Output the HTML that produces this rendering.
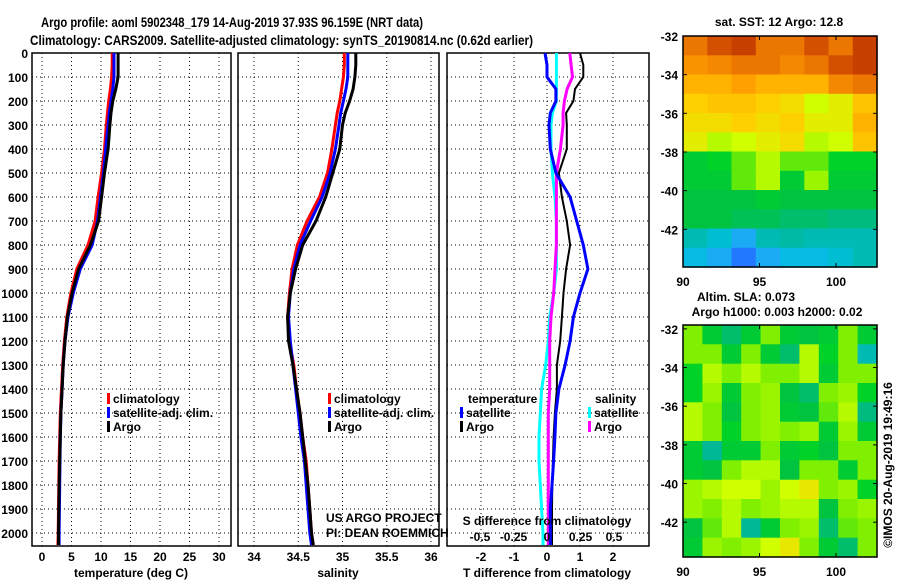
<!DOCTYPE html>
<html><head><meta charset="utf-8"><style>
html,body{margin:0;padding:0;background:#fff;width:900px;height:580px;overflow:hidden}
svg text{font-family:"Liberation Sans",sans-serif;font-weight:bold;fill:#000}
</style></head><body>
<svg id="chart" width="900" height="580" xmlns="http://www.w3.org/2000/svg">
<text x="41" y="27" font-size="14" textLength="382" lengthAdjust="spacingAndGlyphs">Argo profile: aoml 5902348_179 14-Aug-2019 37.93S 96.159E (NRT data)</text>
<text x="30" y="45" font-size="14" textLength="503" lengthAdjust="spacingAndGlyphs">Climatology: CARS2009. Satellite-adjusted climatology: synTS_20190814.nc (0.62d earlier)</text>
<g id="g"></g>
</svg>
<script>
const depths=[0,50,100,150,200,250,300,400,500,600,700,800,900,1000,1100,1200,1300,1400,1500,1600,1700,1800,1900,2000,2050];
const tempClim=[11.9,11.9,11.8,11.6,11.3,11.1,10.9,10.6,10.1,9.5,9.0,7.8,5.9,4.9,4.2,3.8,3.5,3.3,3.1,3.0,2.9,2.85,2.8,2.75,2.7];
const tempSat=[12.2,12.2,12.2,12.0,11.7,11.4,11.2,10.8,10.4,9.9,9.4,8.5,6.5,5.3,4.4,3.9,3.6,3.4,3.2,3.1,3.05,3.0,2.95,2.9,2.9];
const tempArgo=[12.9,12.9,12.9,12.5,12.0,11.7,11.5,11.2,10.6,10.1,9.6,8.2,6.2,5.1,4.3,3.9,3.6,3.4,3.2,3.1,3.0,2.9,2.85,2.8,2.8];
const salClim=[35.02,35.02,35.01,34.99,34.97,34.94,34.92,34.88,34.83,34.74,34.60,34.49,34.43,34.40,34.38,34.40,34.45,34.48,34.52,34.55,34.59,34.61,34.63,34.65,34.67];
const salSat=[35.06,35.06,35.06,35.04,35.01,34.98,34.96,34.92,34.86,34.77,34.64,34.52,34.45,34.41,34.39,34.41,34.44,34.47,34.50,34.53,34.57,34.59,34.61,34.63,34.65];
const salArgo=[35.15,35.15,35.14,35.12,35.08,35.03,35.00,34.97,34.89,34.81,34.70,34.55,34.47,34.41,34.38,34.39,34.44,34.48,34.52,34.55,34.58,34.61,34.63,34.65,34.67];
const tDiffSat=[-0.06,0,0,0.27,0.27,0.1,0.06,0.1,0.27,0.7,0.9,1.1,1.24,1.0,0.8,0.7,0.55,0.36,0.27,0.24,0.2,0.15,0.1,0.1,0.1];
const tDiffArgo=[1.0,1.1,1.1,0.85,0.8,0.58,0.6,0.6,0.36,0.45,0.6,0.7,0.58,0.5,0.45,0.4,0.3,0.3,0.24,0.2,0.18,0.16,0.15,0.15,0.15];
const sDiffArgo=[0.17,0.18,0.19,0.15,0.13,0.12,0.12,0.10,0.07,0.07,0.07,0.07,0.06,0.05,0.03,0.02,0.02,0.02,0.01,0.01,0.01,0.01,0.01,0.01,0.01];
const sDiffSat=[0.07,0.07,0.07,0.07,0.07,0.04,0.03,0.03,0.04,0.06,0.07,0.07,0.07,0.05,0.02,0.01,-0.01,-0.04,-0.05,-0.06,-0.06,-0.05,-0.04,-0.03,-0.03];
const depthTicks=[0,100,200,300,400,500,600,700,800,900,1000,1100,1200,1300,1400,1500,1600,1700,1800,1900,2000];
const tempTicks=[0,5,10,15,20,25,30];
const salTicks=[34,34.5,35,35.5,36];
const tdTicks=[-2,-1,0,1,2];
const sdTicks=[-0.5,-0.25,0,0.25,0.5];
const latTicks=[-32,-34,-36,-38,-40,-42];
const lonTicks=[90,95,100];
const sstGrid=[
[0.85,0.9,0.92,0.85,0.85,0.9,0.85,0.92],
[0.8,0.82,0.85,0.85,0.82,0.85,0.9,0.92],
[0.75,0.75,0.78,0.75,0.75,0.75,0.82,0.85],
[0.7,0.72,0.72,0.7,0.68,0.62,0.65,0.72],
[0.68,0.68,0.7,0.68,0.7,0.65,0.65,0.75],
[0.65,0.6,0.62,0.65,0.68,0.6,0.62,0.72],
[0.5,0.52,0.55,0.6,0.55,0.55,0.52,0.52],
[0.5,0.5,0.55,0.6,0.5,0.58,0.5,0.5],
[0.48,0.48,0.48,0.5,0.48,0.48,0.48,0.48],
[0.48,0.48,0.47,0.47,0.46,0.46,0.45,0.45],
[0.42,0.4,0.35,0.42,0.43,0.42,0.42,0.42],
[0.38,0.35,0.28,0.35,0.38,0.38,0.4,0.42]];
const slaGrid=[
[0.56,0.5,0.46,0.5,0.56,0.5,0.48,0.5,0.56,0.5],
[0.56,0.56,0.5,0.56,0.5,0.46,0.6,0.52,0.56,0.42],
[0.52,0.6,0.56,0.6,0.56,0.56,0.6,0.5,0.56,0.56],
[0.52,0.58,0.5,0.56,0.58,0.48,0.46,0.56,0.58,0.52],
[0.6,0.56,0.48,0.56,0.58,0.5,0.48,0.55,0.6,0.45],
[0.6,0.56,0.52,0.56,0.58,0.56,0.58,0.5,0.58,0.5],
[0.5,0.44,0.5,0.5,0.56,0.5,0.52,0.48,0.56,0.56],
[0.5,0.48,0.56,0.6,0.6,0.48,0.56,0.56,0.5,0.56],
[0.58,0.6,0.62,0.62,0.58,0.62,0.66,0.56,0.58,0.52],
[0.58,0.56,0.6,0.56,0.58,0.6,0.6,0.48,0.56,0.58],
[0.48,0.55,0.6,0.44,0.5,0.56,0.58,0.46,0.55,0.56],
[0.5,0.58,0.56,0.58,0.62,0.66,0.56,0.5,0.46,0.56]];

const NS='http://www.w3.org/2000/svg';
const G=document.getElementById('g');
function mk(tag,attrs,parent){const e=document.createElementNS(NS,tag);for(const k in attrs)e.setAttribute(k,attrs[k]);(parent||G).appendChild(e);return e;}
function txt(x,y,s,size,anchor,parent){const e=mk('text',{x:x,y:y,'font-size':size||12,'text-anchor':anchor||'middle'},parent);e.textContent=s;return e;}
const yD=d=>53+d*0.24;
const TOP=53,BOT=546;
const xT=t=>42+t*5.9;
const xS=s=>254+(s-34)*88.5;
const xTD=t=>547+t*33;
const xSD=s=>547+s*134;

function panel(name,x0,x1,vx){
  const g=mk('g',{});
  
  
  vx.forEach(x=>mk('line',{x1:x,x2:x,y1:TOP,y2:BOT,stroke:'#000','stroke-dasharray':'1,3','stroke-width':1},g));
  depthTicks.forEach(d=>mk('line',{x1:x0,x2:x1,y1:yD(d),y2:yD(d),stroke:'#000','stroke-dasharray':'1,3','stroke-width':1},g));
  mk('rect',{x:x0,y:TOP,width:x1-x0,height:BOT-TOP,fill:'none',stroke:'#000','stroke-width':1.5},g);
  return g;
}
function line(g,xs,xf,color,name,w){
  const p=mk('polyline',{points:depths.map((d,i)=>xf(xs[i]).toFixed(1)+','+yD(d).toFixed(1)).join(' '),fill:'none',stroke:color,'stroke-width':w||3},g);
  
  
}
function legend(g,x,y,color,label){
  mk('rect',{x:x,y:y-6,width:3,height:11,fill:color},g);
  const t=txt(x+6,y+4,label,12,'start',g);
  
  
}
// Panel 1
const p1=panel('temperature-panel',32,231,tempTicks.map(xT));
depthTicks.forEach(d=>{const t=txt(28,yD(d)+5,String(d),12,'end',p1);});
line(p1,tempClim,xT,'#f00','temp-climatology-line');
line(p1,tempSat,xT,'#00f','temp-satellite-line');
line(p1,tempArgo,xT,'#000','temp-argo-line');
tempTicks.forEach(t=>{const e=txt(xT(t),561,String(t),12,'middle',p1);});
const a1=txt(131,577,'temperature (deg C)',12,'middle',p1);


legend(p1,107,399,'#f00','climatology');legend(p1,107,413,'#00f','satellite-adj. clim.');legend(p1,107,427,'#000','Argo');
// Panel 2
const p2=panel('salinity-panel',238,439,salTicks.map(xS));
line(p2,salClim,xS,'#f00','sal-climatology-line');
line(p2,salSat,xS,'#00f','sal-satellite-line');
line(p2,salArgo,xS,'#000','sal-argo-line');
salTicks.forEach(t=>{const e=txt(xS(t),561,String(t),12,'middle',p2);});
const a2=txt(338,577,'salinity',12,'middle',p2);


legend(p2,328,399,'#f00','climatology');legend(p2,328,413,'#00f','satellite-adj. clim.');legend(p2,328,427,'#000','Argo');
const c1=txt(326,522,'US ARGO PROJECT',12,'start',p2);c1.setAttribute('font-weight','normal');

const c2=txt(326,537,'PI: DEAN ROEMMICH',12,'start',p2);c2.setAttribute('font-weight','normal');

// Panel 3
const p3=panel('difference-panel',447,649,tdTicks.map(xTD));
line(p3,sDiffSat,xSD,'#0ff','sal-diff-satellite-line');
line(p3,sDiffArgo,xSD,'#f0f','sal-diff-argo-line');
line(p3,tDiffArgo,xTD,'#000','temp-diff-argo-line',2);
line(p3,tDiffSat,xTD,'#00f','temp-diff-satellite-line');
tdTicks.forEach(t=>{const e=txt(xTD(t),561,String(t),12,'middle',p3);});
sdTicks.forEach(t=>{const e=txt(xSD(t),541,String(t),12,'middle',p3);});
const a3=txt(547,577,'T difference from climatology',12,'middle',p3);

const a4=txt(547,525,'S difference from climatology',12,'middle',p3);

const lt=txt(468,403,'temperature',12,'start',p3);
const ls=txt(595,403,'salinity',12,'start',p3);
legend(p3,460,413,'#00f','satellite');legend(p3,460,427,'#000','Argo');
legend(p3,588,413,'#0ff','satellite');legend(p3,588,427,'#f0f','Argo');
[36,62,89,115,142].forEach(()=>{});
// Colormap
const stops=[[0.25,[32,96,255]],[0.33,[40,160,255]],[0.39,[0,192,224]],[0.44,[0,184,150]],[0.48,[0,196,64]],[0.52,[0,210,40]],[0.56,[128,240,0]],[0.62,[208,255,0]],[0.7,[255,208,0]],[0.78,[255,160,0]],[0.86,[232,112,0]],[0.95,[184,40,0]]];
function cmap(v){
  if(v<=stops[0][0])return 'rgb('+stops[0][1]+')';
  for(let i=1;i<stops.length;i++){if(v<=stops[i][0]){const a=stops[i-1],b=stops[i],f=(v-a[0])/(b[0]-a[0]);return 'rgb('+a[1].map((c,k)=>Math.round(c+(b[1][k]-c)*f)).join(',')+')';}}
  return 'rgb('+stops[stops.length-1][1]+')';
}
function map(name,grid,x0,x1,y0,y1,latTop,latBot,title1,title2){
  const g=mk('g',{});
  
  
  const rows=grid.length,cols=grid[0].length,cw=(x1-x0)/cols,ch=(y1-y0)/rows;
  grid.forEach((r,i)=>r.forEach((v,j)=>{
    const c=mk('rect',{x:(x0+j*cw).toFixed(1),y:(y0+i*ch).toFixed(1),width:(cw+0.6).toFixed(1),height:(ch+0.6).toFixed(1),fill:cmap(v)},g);
    
    
  }));
  mk('rect',{x:x0,y:y0,width:x1-x0,height:y1-y0,fill:'none',stroke:'#000','stroke-width':1.5},g);
  const yl=l=>y0+(latTop-l)/(latTop-latBot)*(y1-y0);
  const xl=l=>x0+(l-90)*15.3;
  latTicks.forEach(l=>{mk('line',{x1:x0,x2:x0+4,y1:yl(l),y2:yl(l),stroke:'#000'},g);mk('line',{x1:x1,x2:x1-4,y1:yl(l),y2:yl(l),stroke:'#000'},g);
    const t=txt(x0-5,yl(l)+5,String(l),12,'end',g);});
  lonTicks.forEach(l=>{mk('line',{x1:xl(l),x2:xl(l),y1:y1,y2:y1-4,stroke:'#000'},g);mk('line',{x1:xl(l),x2:xl(l),y1:y0,y2:y0+4,stroke:'#000'},g);
    const t=txt(xl(l),y1+19,String(l),12,'middle',g);});
  return g;
}
map('sst-map',sstGrid,683,877,36,267,-32,-43.95);
map('sla-map',slaGrid,683,877,325,557,-31.8,-43.8);
const t1=txt(779,26,'sat. SST: 12 Argo: 12.8',12);
const t2=txt(746,301,'Altim. SLA: 0.073',12);
const t3=txt(777,316,'Argo h1000: 0.003 h2000: 0.02',12);
const st=txt(0,0,'©IMOS 20-Aug-2019 19:49:16',12,'middle');
st.setAttribute('font-weight','normal');
st.setAttribute('transform','translate(892,465) rotate(-90)');


</script>
</body></html>
